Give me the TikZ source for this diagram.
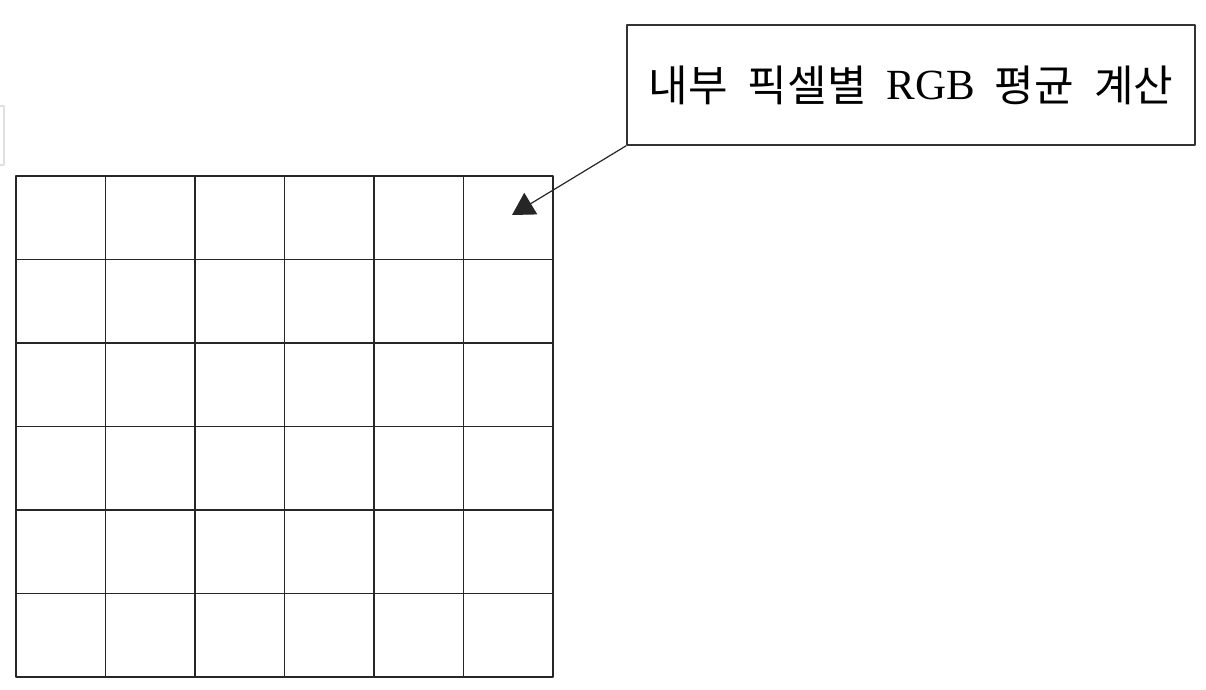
\documentclass[tikz,border=0pt]{standalone}
\usepackage{fontspec}
\setmainfont{Liberation Serif}
\newfontfamily\cjk{Noto Sans CJK KR}
\usetikzlibrary{arrows.meta,calc}

\begin{document}
\begin{tikzpicture}[x=1pt, y=-1pt, line join=round, >={Triangle[length=22pt,width=25pt]}]

  % Fix the page to the size of the reference
  \useasboundingbox (0,0) rectangle (1206,689);

  % Size of one cell of the pixel grid
  \pgfmathsetmacro\cw{89.5}
  \pgfmathsetmacro\ch{83.5}

  % Corners of the pixel grid
  \coordinate (grid-nw) at (16,176);
  \coordinate (grid-se) at ($ (grid-nw) + (6*\cw,6*\ch) $);

  % Faint edge at the left border
  \draw[black!12, line width=1.2pt] (0,106) -- (4,106) -- (4,165) -- (0,165);

  % Draw the 6x6 pixel grid
  \draw[line width=1.3pt, black!85] (grid-nw) rectangle (grid-se);
  \foreach \i in {1,...,5} {
    \draw[line width=1.3pt, black!85] ($ (grid-nw) + (\i*\cw,0) $) -- ($ (grid-nw) + (\i*\cw,6*\ch) $);
    \draw[line width=1.3pt, black!85] ($ (grid-nw) + (0,\i*\ch) $) -- ($ (grid-nw) + (6*\cw,\i*\ch) $);
  }

  % Label box
  \node[draw=black!80, line width=1.3pt, minimum width=568pt, minimum height=120pt,
        inner sep=0pt, font=\fontsize{43}{52}\selectfont] (label) at (911,85)
    {\raisebox{-4pt}{\cjk 내부}\hspace{20pt}\raisebox{-4pt}{\cjk 픽셀별}\hspace{20pt}\raisebox{-2pt}{RGB}\hspace{20pt}\raisebox{-4pt}{\cjk 평균}\hspace{20pt}\raisebox{-4pt}{\cjk 계산}};

  % Point inside the top right cell
  \coordinate (cell-tip) at (512,215);

  % Arrow from the label to the cell
  \draw[->, line width=1.2pt, black!85] (label.south west) -- (cell-tip);

\end{tikzpicture}
\end{document}
